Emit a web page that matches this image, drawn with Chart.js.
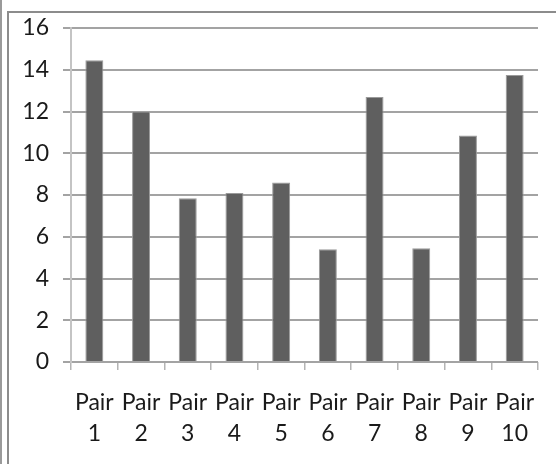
<!DOCTYPE html>
<html>
<head>
<meta charset="utf-8">
<script src="https://cdn.jsdelivr.net/npm/chart.js@4"></script>
<style>
  html, body { margin: 0; padding: 0; background: #fff; }
  body { width: 556px; height: 464px; position: relative; overflow: hidden; }
  .edge { position: absolute; left: 0; top: 0; width: 2px; height: 464px; background: #9a9a9a; }
  .frame { position: absolute; left: 7px; top: 11px; width: 560px; height: 470px;
           border-left: 2px solid #8c8c8c; border-top: 2px solid #8c8c8c; }
  canvas { position: absolute; left: 0; top: 0; }
</style>
</head>
<body>
<div class="edge"></div>
<div class="frame"></div>
<canvas id="chart" width="556" height="464"></canvas>
<script>
// Category labels (two lines each) and the measured values per pair
const categories = [
  ['Pair', '1'], ['Pair', '2'], ['Pair', '3'], ['Pair', '4'], ['Pair', '5'],
  ['Pair', '6'], ['Pair', '7'], ['Pair', '8'], ['Pair', '9'], ['Pair', '10']
];
const values = [14.45, 12.0, 7.85, 8.1, 8.6, 5.4, 12.7, 5.45, 10.85, 13.75];
const yTicks = [0, 2, 4, 6, 8, 10, 12, 14, 16];

const FONT = 'Lato, "Open Sans", sans-serif';

new Chart(document.getElementById('chart'), {
  type: 'bar',
  data: {
    labels: categories,
    datasets: [{
      data: values,
      backgroundColor: '#5f5f5f',
      borderColor: '#9a9a9a',
      borderWidth: 1,
      borderSkipped: 'bottom',
      categoryPercentage: 1,
      barPercentage: 0.385
    }]
  },
  options: {
    responsive: false,
    animation: false,
    layout: { padding: { top: 28, right: 18, left: 0, bottom: 0 } },
    plugins: { legend: { display: false }, tooltip: { enabled: false } },
    scales: {
      x: {
        offset: true,
        grid: {
          offset: true,
          drawOnChartArea: false,
          drawTicks: true,
          tickLength: 8,
          color: '#b4b4b4',
          lineWidth: 1.5
        },
        border: { display: false },
        ticks: {
          color: '#1a1a1a',
          font: { family: FONT, size: 23, lineHeight: 1.35 },
          padding: 17,
          maxRotation: 0,
          autoSkip: false
        },
        afterFit: (scale) => { scale.height = 464 - 362; }
      },
      y: {
        min: 0,
        max: 16,
        afterBuildTicks: (scale) => { scale.ticks = yTicks.map(v => ({ value: v })); },
        grid: {
          color: '#a3a3a3',
          lineWidth: 2,
          drawTicks: true,
          tickLength: 8
        },
        border: { display: true, color: '#c4c4c4', width: 2 },
        ticks: {
          color: '#1a1a1a',
          font: { family: FONT, size: 23 },
          padding: 14
        },
        afterFit: (scale) => { scale.width = 71; }
      }
    }
  }
});
</script>
</body>
</html>
